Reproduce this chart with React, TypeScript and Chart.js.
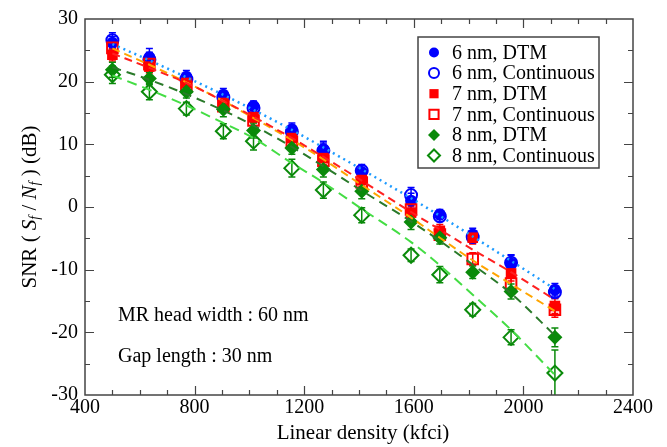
import React, { useEffect, useRef } from "react";
import { Chart, registerables } from "chart.js";

Chart.register(...registerables);

// ---------- data ----------
const densities = [500, 635, 770, 905, 1015, 1155, 1270, 1410, 1590, 1695, 1815, 1955, 2115];

const snr6DTM = [26.2, 23.9, 20.8, 17.9, 16.1, 12.4, 9.2, 5.6, 1.0, -1.2, -4.4, -9.0, -13.2];
const snr6Cont = [26.6, 23.5, 20.4, 17.5, 15.8, 12.0, 9.0, 5.8, 1.9, -1.5, -4.8, -8.9, -13.6];
const snr7DTM = [24.3, 22.4, 19.8, 16.6, 14.3, 11.0, 7.8, 4.3, -0.9, -3.8, -4.9, -10.6, -15.8];
const snr7Cont = [25.4, 22.8, 19.2, 16.1, 13.8, 10.4, 7.4, 3.9, -0.4, -4.4, -8.3, -12.2, -16.4];
const snr8DTM = [21.9, 20.5, 18.4, 15.6, 12.2, 9.4, 6.0, 2.5, -2.4, -4.9, -10.4, -13.5, -20.8];
const snr8Cont = [21.1, 18.4, 15.7, 12.1, 10.5, 6.2, 2.7, -1.3, -7.7, -10.8, -16.4, -20.8, -26.5];

const err6DTM = [1.0, 1.4, 1.0, 1.0, 0.8, 1.0, 1.3, 1.0, 1.2, 0.8, 1.0, 1.4, 1.0];
const err6Cont = [1.2, 1.2, 1.0, 1.0, 0.8, 1.0, 1.2, 1.0, 1.2, 0.8, 1.0, 1.2, 1.0];
const err7DTM = [1.0, 1.0, 1.0, 1.0, 0.8, 1.0, 1.0, 1.0, 1.0, 1.0, 1.0, 1.2, 1.2];
const err7Cont = [1.0, 1.0, 1.0, 1.0, 0.8, 1.0, 1.0, 1.0, 1.0, 1.0, 1.0, 1.2, 1.2];
const err8DTM = [1.2, 1.0, 1.0, 1.2, 1.2, 1.0, 1.2, 1.2, 1.2, 1.0, 1.0, 1.2, 1.5];
const err8Cont = [1.4, 1.3, 1.0, 1.2, 1.4, 1.4, 1.3, 1.2, 1.0, 1.3, 1.0, 1.2, 3.7];

const fit6 = [26.0, 23.4, 20.7, 17.9, 15.5, 12.3, 9.5, 6.0, 1.4, -1.4, -4.7, -8.6, -13.1];
const fit7DTM = [24.5, 22.2, 19.8, 16.9, 14.4, 11.0, 8.0, 4.2, -0.8, -3.6, -6.8, -10.4, -14.8];
const fit7Cont = [25.3, 22.7, 19.9, 16.9, 14.2, 10.7, 7.6, 3.5, -1.7, -4.9, -8.5, -12.3, -16.6];
const fit8DTM = [22.3, 20.3, 18.0, 15.4, 13.0, 9.6, 6.5, 2.6, -2.3, -5.4, -9.2, -13.8, -20.5];
const fit8Cont = [21.0, 18.7, 16.2, 13.4, 11.0, 7.0, 3.9, -0.3, -5.6, -9.3, -14.0, -19.6, -26.8];

const legendLabels = [
  "6 nm, DTM",
  "6 nm, Continuous",
  "7 nm, DTM",
  "7 nm, Continuous",
  "8 nm, DTM",
  "8 nm, Continuous",
];

const xRange = [400, 2400];
const yRange = [-30, 30];
const xMajorStep = 400;
const xMinorStep = 100;
const yMajorStep = 10;
const yMinorStep = 5;

const notes = ["MR head width : 60 nm", "Gap length : 30 nm"];
const xTitle = "Linear density (kfci)";

// ---------- styles ----------
const SERIF = '"Liberation Serif", "DejaVu Serif", serif';
const BLUE = "#0000ff";
const RED = "#ff0000";
const GREEN = "#0a8a0a";

type Marker = { style: "circle" | "rect" | "rectRot"; color: string; filled: boolean };
const markers: Marker[] = [
  { style: "circle", color: BLUE, filled: true },
  { style: "circle", color: BLUE, filled: false },
  { style: "rect", color: RED, filled: true },
  { style: "rect", color: RED, filled: false },
  { style: "rectRot", color: GREEN, filled: true },
  { style: "rectRot", color: GREEN, filled: false },
];

const seriesValues = [snr6DTM, snr6Cont, snr7DTM, snr7Cont, snr8DTM, snr8Cont];
const seriesErrors = [err6DTM, err6Cont, err7DTM, err7Cont, err8DTM, err8Cont];
const markerRadius = { circle: 6, rect: 7.5, rectRot: 7.5 };

const fits = [
  { values: fit6, color: "#1e9bff", dash: [2, 4], width: 2.5 },
  { values: fit7DTM, color: "#ff2020", dash: [8, 5], width: 2 },
  { values: fit7Cont, color: "#ffa500", dash: [8, 5], width: 2 },
  { values: fit8DTM, color: "#2a7a2a", dash: [9, 6], width: 2 },
  { values: fit8Cont, color: "#44dd44", dash: [10, 6], width: 2 },
];

function drawMarker(ctx: CanvasRenderingContext2D, m: Marker, x: number, y: number, r: number) {
  ctx.beginPath();
  if (m.style === "circle") {
    ctx.arc(x, y, r, 0, Math.PI * 2);
  } else if (m.style === "rect") {
    const s = r * Math.SQRT1_2;
    ctx.rect(x - s, y - s, 2 * s, 2 * s);
  } else {
    ctx.moveTo(x, y - r);
    ctx.lineTo(x + r, y);
    ctx.lineTo(x, y + r);
    ctx.lineTo(x - r, y);
    ctx.closePath();
  }
  if (m.filled) {
    ctx.fillStyle = m.color;
    ctx.fill();
  } else {
    ctx.fillStyle = "#ffffff";
    ctx.fill();
    ctx.strokeStyle = m.color;
    ctx.lineWidth = 2;
    ctx.stroke();
  }
}

const errorBarPlugin = {
  id: "errorBars",
  beforeDatasetsDraw(chart: any) {
    const { ctx, chartArea, scales } = chart;
    ctx.save();
    ctx.beginPath();
    ctx.rect(chartArea.left, chartArea.top, chartArea.right - chartArea.left, chartArea.bottom - chartArea.top);
    ctx.clip();
    ctx.lineWidth = 1.5;
    chart.data.datasets.forEach((ds: any) => {
      if (!ds.errors) return;
      ctx.strokeStyle = ds.errorColor;
      ds.data.forEach((p: any, i: number) => {
        const e = ds.errors[i];
        const px = scales.x.getPixelForValue(p.x);
        const y1 = scales.y.getPixelForValue(p.y + e);
        const y2 = scales.y.getPixelForValue(p.y - e);
        ctx.beginPath();
        ctx.moveTo(px, y1);
        ctx.lineTo(px, y2);
        ctx.moveTo(px - 3.5, y1);
        ctx.lineTo(px + 3.5, y1);
        ctx.moveTo(px - 3.5, y2);
        ctx.lineTo(px + 3.5, y2);
        ctx.stroke();
      });
    });
    ctx.restore();
  },
};

const framePlugin = {
  id: "frame",
  afterDatasetsDraw(chart: any) {
    const { ctx, chartArea, scales } = chart;
    const { left, right, top, bottom } = chartArea;
    ctx.save();
    ctx.strokeStyle = "#444444";
    ctx.lineWidth = 1.5;
    ctx.strokeRect(left, top, right - left, bottom - top);
    ctx.lineWidth = 1.2;
    ctx.beginPath();
    for (let v = xRange[0] + xMinorStep; v < xRange[1]; v += xMinorStep) {
      const px = Math.round(scales.x.getPixelForValue(v)) + 0.5;
      const len = v % xMajorStep === 0 ? 9 : 5;
      ctx.moveTo(px, bottom);
      ctx.lineTo(px, bottom - len);
      ctx.moveTo(px, top);
      ctx.lineTo(px, top + len);
    }
    for (let v = yRange[0] + yMinorStep; v < yRange[1]; v += yMinorStep) {
      const py = Math.round(scales.y.getPixelForValue(v)) + 0.5;
      const len = v % yMajorStep === 0 ? 9 : 5;
      ctx.moveTo(left, py);
      ctx.lineTo(left + len, py);
      ctx.moveTo(right, py);
      ctx.lineTo(right - len, py);
    }
    ctx.stroke();
    ctx.restore();
  },
};

const textPlugin = {
  id: "texts",
  afterDraw(chart: any) {
    const { ctx, chartArea } = chart;
    ctx.save();
    ctx.fillStyle = "#000";
    ctx.textBaseline = "middle";

    // legend box
    const bx = 418, by = 37, bw = 181, bh = 131;
    ctx.fillStyle = "#fff";
    ctx.fillRect(bx, by, bw, bh);
    ctx.strokeStyle = "#444";
    ctx.lineWidth = 1.5;
    ctx.strokeRect(bx, by, bw, bh);
    ctx.font = `20px ${SERIF}`;
    legendLabels.forEach((lab, i) => {
      const cy = 52.5 + i * 20.6;
      const m = markers[i];
      const r = m.style === "circle" ? 5 : m.style === "rect" ? 6.5 : 6;
      drawMarker(ctx, m, 434, cy, r);
      ctx.fillStyle = "#000";
      ctx.textAlign = "left";
      ctx.fillText(lab, 452, cy + 1);
    });

    // notes
    ctx.font = `20px ${SERIF}`;
    ctx.textAlign = "left";
    ctx.fillText(notes[0], 118, 316);
    ctx.fillText(notes[1], 118, 357);

    // x title
    ctx.font = `21px ${SERIF}`;
    ctx.textAlign = "center";
    ctx.fillText(xTitle, (chartArea.left + chartArea.right) / 2 + 4, 433);

    // y title with italics and subscripts
    const segs: { t: string; it?: boolean; sub?: boolean }[] = [
      { t: "SNR ( " },
      { t: "S", it: true },
      { t: "f", it: true, sub: true },
      { t: " / " },
      { t: "N", it: true },
      { t: "f", it: true, sub: true },
      { t: " ) (dB)" },
    ];
    const fs = 21;
    const fontFor = (s: any) => `${s.it ? "italic " : ""}${s.sub ? Math.round(fs * 0.65) : fs}px ${SERIF}`;
    let total = 0;
    segs.forEach((s) => {
      ctx.font = fontFor(s);
      total += ctx.measureText(s.t).width;
    });
    ctx.translate(30, 207);
    ctx.rotate(-Math.PI / 2);
    let xx = -total / 2;
    ctx.textAlign = "left";
    segs.forEach((s) => {
      ctx.font = fontFor(s);
      ctx.fillText(s.t, xx, s.sub ? 5 : 0);
      xx += ctx.measureText(s.t).width;
    });
    ctx.restore();
  },
};

export default function App() {
  const ref = useRef<HTMLCanvasElement | null>(null);

  useEffect(() => {
    document.body.style.margin = "0";
    const canvas = ref.current;
    if (!canvas) return;

    const fitSets = fits.map((f, i) => ({
      type: "line" as const,
      label: "fit" + i,
      data: densities.map((x, j) => ({ x, y: f.values[j] })),
      borderColor: f.color,
      borderWidth: f.width,
      borderDash: f.dash,
      pointRadius: 0,
      fill: false,
      tension: 0.4,
      cubicInterpolationMode: "monotone" as const,
      order: 0,
    }));

    const markerSets = seriesValues.map((vals, i) => {
      const m = markers[i];
      return {
        type: "line" as const,
        label: legendLabels[i],
        data: densities.map((x, j) => ({ x, y: vals[j] })),
        showLine: false,
        pointStyle: m.style,
        pointRadius: markerRadius[m.style],
        pointBackgroundColor: m.filled ? m.color : "rgba(255,255,255,0)",
        pointBorderColor: m.color,
        pointBorderWidth: m.filled ? 0 : 2,
        errors: seriesErrors[i],
        errorColor: m.color,
        order: 1 + (5 - i),
      };
    });

    const chart = new Chart(canvas, {
      type: "line",
      data: { datasets: [...fitSets, ...markerSets] as any },
      options: {
        animation: false,
        responsive: false,
        maintainAspectRatio: false,
        layout: { padding: { top: 14, right: 34, left: 0, bottom: 0 } },
        plugins: { legend: { display: false }, tooltip: { enabled: false } },
        scales: {
          x: {
            type: "linear",
            min: xRange[0],
            max: xRange[1],
            grid: { display: false, drawTicks: false },
            border: { display: false },
            ticks: {
              stepSize: xMajorStep,
              color: "#000",
              padding: 1,
              maxRotation: 0,
              autoSkip: false,
              font: { family: SERIF, size: 20 },
              callback: (v: any) => String(v),
            },
            afterFit: (s: any) => {
              s.height = 52;
            },
          },
          y: {
            type: "linear",
            min: yRange[0],
            max: yRange[1],
            grid: { display: false, drawTicks: false },
            border: { display: false },
            ticks: {
              stepSize: yMajorStep,
              color: "#000",
              padding: 7,
              autoSkip: false,
              font: { family: SERIF, size: 20 },
              callback: (v: any) => String(v),
            },
            afterFit: (s: any) => {
              s.width = 85;
            },
          },
        },
      },
      plugins: [errorBarPlugin, framePlugin, textPlugin],
    });

    return () => chart.destroy();
  }, []);

  return <canvas ref={ref} width={667} height={447} style={{ display: "block" }} />;
}
